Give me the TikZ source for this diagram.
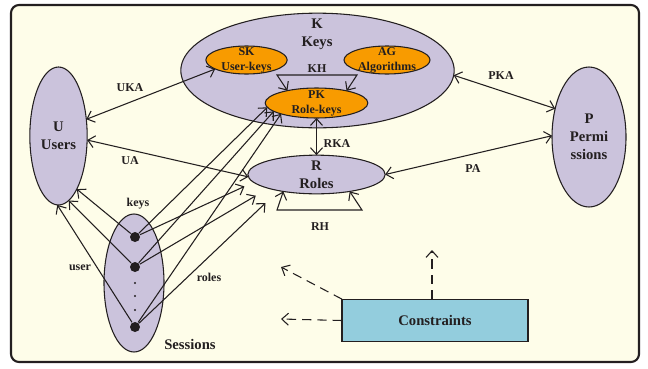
\documentclass[tikz,border=0pt]{standalone}
\usepackage{fontspec}
\setmainfont{Liberation Serif}
\usetikzlibrary{shapes.geometric,arrows.meta}

\definecolor{paper}{RGB}{254,253,233}
\definecolor{lilac}{RGB}{203,195,220}
\definecolor{amber}{RGB}{248,155,0}
\definecolor{aqua}{RGB}{147,205,221}
\definecolor{ink}{RGB}{35,31,32}

\begin{document}
\begin{tikzpicture}[x=0.75pt,y=-0.75pt,line width=0.8pt,
  >={Straight Barb[length=5pt,width=9pt]},
  set/.style={ellipse,draw=ink,fill=lilac,inner sep=0pt,outer sep=0pt},
  subset/.style={ellipse,draw=ink,fill=amber,inner sep=0pt,outer sep=0pt},
  big/.style={font=\fontsize{11}{13.6}\selectfont\bfseries,align=center,text=ink},
  small/.style={font=\fontsize{9}{11.2}\selectfont\bfseries,align=center,text=ink},
  dot/.style={circle,fill=ink,inner sep=0pt,minimum size=7.5pt},
  link/.style={<->,draw=ink},
  cdash/.style={->,draw=ink,dash pattern=on 7pt off 4.5pt}]
  \useasboundingbox (0,0) rectangle (648,368);
  \fill[white] (0,0) rectangle (648,368);
  \draw[ink,line width=1.6pt,rounded corners=6pt,fill=paper] (11,5) rectangle (639,362);

  % keys and their parts
  \node[set,minimum width=205pt,minimum height=86pt] (K) at (317.5,70.5) {};
  \node[big] (Klbl) at (317,34) {K\\Keys};
  \node[subset,minimum width=61pt,minimum height=21pt,label={[small]center:SK\\User-keys}] (SK) at (246.5,60) {};
  \node[subset,minimum width=64.5pt,minimum height=21pt,label={[small]center:AG\\Algorithms}] (AG) at (387,60) {};
  \node[subset,minimum width=77pt,minimum height=22.5pt,label={[small]center:PK\\Role-keys}] (PK) at (316.5,103) {};

  % users, roles, permissions, sessions
  \node[set,minimum width=43pt,minimum height=103.5pt,label={[big]center:U\\Users}] (U) at (58.5,136) {};
  \node[set,minimum width=55.5pt,minimum height=105pt,label={[big]center:P\\Permi\\ssions}] (P) at (589,137) {};
  \node[set,minimum width=103pt,minimum height=29pt,label={[big]center:R\\Roles}] (R) at (316.5,174.5) {};
  \node[set,minimum width=45pt,minimum height=103.5pt] (Ses) at (134,283) {};

  \node[dot] (S1) at (135,237) {};
  \node[dot] (S2) at (135,267) {};
  \node[dot] (S3) at (135,327) {};
  \fill[ink] (135,283) circle [radius=0.9pt];
  \fill[ink] (135,296) circle [radius=0.9pt];
  \fill[ink] (135,310) circle [radius=0.9pt];

  % assignments
  \draw[link] (U.31) -- (SK.196);
  \draw[link] (U.352) -- (R.182);
  \draw[link] (K.358) -- (P.140);
  \draw[link] (R.0) -- (P.178);
  \draw[link] (PK.south) -- (R.north);

  % hierarchies
  \coordinate (KHl) at (277,75);
  \coordinate (KHr) at (357,75);
  \draw[link] (PK.157) -- (KHl) -- (KHr) -- (PK.22);
  \coordinate (RHl) at (277,210);
  \coordinate (RHr) at (362,210);
  \draw[link] (R.207) -- (RHl) -- (RHr) -- (R.333);

  % sessions
  \draw[->,ink] (S1) -- (U.289);
  \draw[->,ink] (S2) -- (U.279);
  \draw[->,ink] (S3) -- (U.269);
  \draw[->,ink] (S1) -- (PK.185);
  \draw[->,ink] (S2) -- (PK.191);
  \draw[->,ink] (S3) -- (PK.197);
  \draw[->,ink,shorten >=7.5pt] (S1) -- (R.187);
  \draw[->,ink,shorten >=11pt] (S2) -- (R.196);
  \draw[->,ink,shorten >=13.5pt] (S3) -- (R.203);

  % constraints
  \node[draw=ink,fill=aqua,outer sep=0pt,minimum width=139.5pt,minimum height=32pt,big] (C) at (435,320.5) {Constraints};
  \coordinate (Cup) at (432,250);
  \coordinate (Cnw) at (281,267);
  \coordinate (Cw) at (281,319);
  \draw[cdash] (Cup |- C.north) -- (Cup);
  \draw[cdash] (C.north west) -- (Cnw);
  \draw[cdash] (C.west) -- (Cw);

  % labels
  \node[small] (KH) at (317,69) {KH};
  \node[small] (UKA) at (130,88) {UKA};
  \node[small] (UA) at (130,161) {UA};
  \node[small] (PKA) at (501,76) {PKA};
  \node[small] (PA) at (473,169) {PA};
  \node[small] (RKA) at (337,144) {RKA};
  \node[small] (RH) at (320,227) {RH};
  \node[small] (keys) at (138,204) {keys};
  \node[small] (user) at (80,268) {user};
  \node[small] (roles) at (209,277) {roles};
  \node[big] (Sessions) at (190,344) {Sessions};
\end{tikzpicture}
\end{document}
